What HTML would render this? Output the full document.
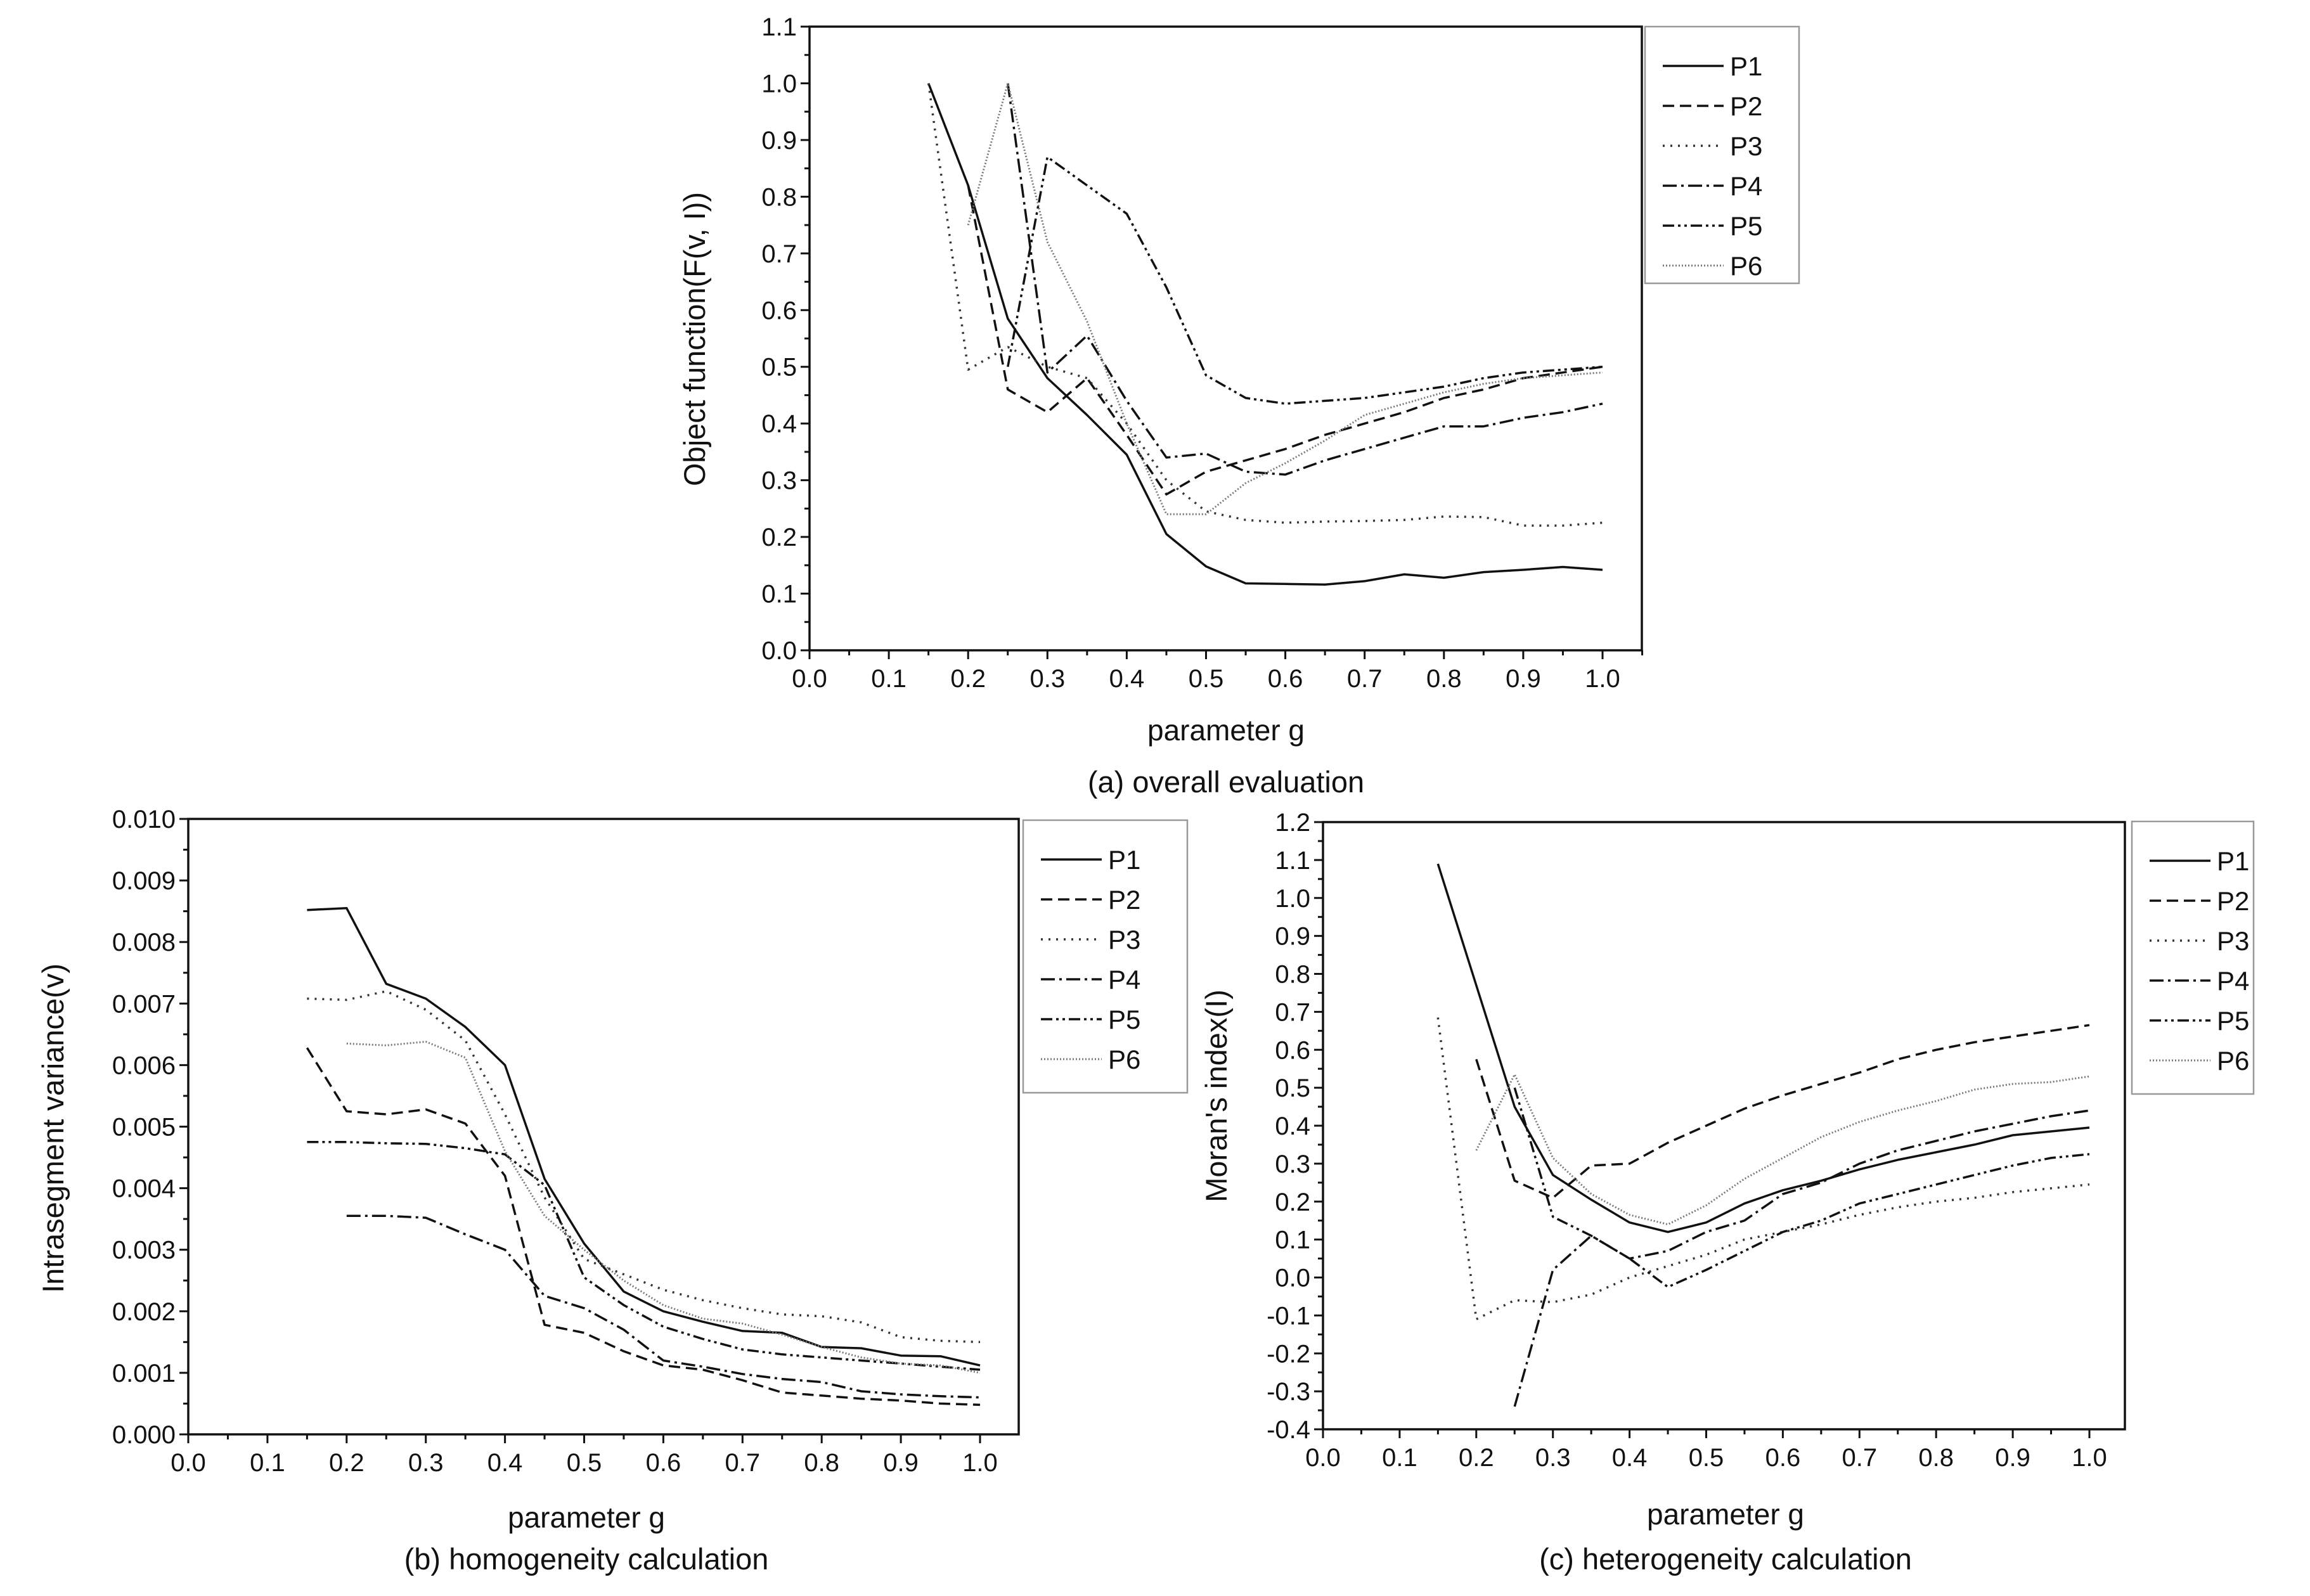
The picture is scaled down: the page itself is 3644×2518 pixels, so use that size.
<!DOCTYPE html>
<html><head><meta charset="utf-8">
<style>
html,body{margin:0;padding:0;background:#fff;}
svg{display:block;font-family:"Liberation Sans",Arial,sans-serif;}
</style></head>
<body>
<svg id="root" width="3644" height="2518" viewBox="0 0 3644 2518" xmlns="http://www.w3.org/2000/svg"></svg>
<script>
// ---- data: chart (a) overall evaluation ----
const gA = [0.15,0.2,0.25,0.3,0.35,0.4,0.45,0.5,0.55,0.6,0.65,0.7,0.75,0.8,0.85,0.9,0.95,1.0];
const aP1 = [1.0,0.82,0.585,0.48,0.415,0.345,0.205,0.148,0.118,0.117,0.116,0.122,0.134,0.128,0.138,0.142,0.147,0.142];
const aP2 = [null,0.82,0.46,0.42,0.48,0.38,0.275,0.315,0.335,0.355,0.38,0.40,0.42,0.445,0.46,0.48,0.49,0.50];
const aP3 = [1.0,0.495,0.535,0.50,0.48,0.40,0.30,0.245,0.23,0.225,0.227,0.228,0.23,0.236,0.235,0.22,0.22,0.225];
const aP4 = [null,null,1.0,0.49,0.555,0.44,0.34,0.347,0.315,0.31,0.335,0.355,0.375,0.395,0.395,0.41,0.42,0.435];
const aP5 = [null,null,0.5,0.87,0.82,0.77,0.64,0.485,0.445,0.435,0.44,0.445,0.455,0.465,0.48,0.49,0.495,0.50];
const aP6 = [null,0.75,1.0,0.72,0.58,0.40,0.24,0.24,0.295,0.33,0.37,0.415,0.435,0.455,0.47,0.48,0.485,0.49];
const aYTicks = ["0.0","0.1","0.2","0.3","0.4","0.5","0.6","0.7","0.8","0.9","1.0","1.1"];
// ---- data: chart (b) homogeneity (x 0.001) ----
const bP1 = [8.52,8.55,7.32,7.08,6.62,6.0,4.15,3.1,2.32,2.0,1.83,1.68,1.65,1.42,1.4,1.28,1.27,1.12];
const bP2 = [6.28,5.25,5.2,5.28,5.05,4.2,1.78,1.65,1.35,1.12,1.05,0.88,0.68,0.63,0.58,0.55,0.5,0.48];
const bP3 = [7.08,7.06,7.2,6.9,6.4,5.2,3.85,2.85,2.6,2.35,2.18,2.05,1.95,1.92,1.82,1.58,1.52,1.5];
const bP4 = [null,3.55,3.55,3.52,3.25,3.0,2.25,2.05,1.7,1.2,1.1,0.98,0.9,0.85,0.7,0.65,0.62,0.6];
const bP5 = [4.75,4.75,4.73,4.72,4.65,4.55,4.05,2.55,2.1,1.75,1.55,1.38,1.3,1.25,1.2,1.15,1.1,1.05];
const bP6 = [null,6.35,6.32,6.38,6.12,4.6,3.55,3.0,2.5,2.1,1.88,1.8,1.62,1.42,1.25,1.15,1.12,1.0];
const bYTicks = ["0.000","0.001","0.002","0.003","0.004","0.005","0.006","0.007","0.008","0.009","0.010"];
// ---- data: chart (c) heterogeneity ----
const cP1 = [1.09,0.77,0.45,0.27,0.205,0.145,0.12,0.145,0.195,0.23,0.255,0.285,0.31,0.33,0.35,0.375,0.385,0.395];
const cP2 = [null,0.575,0.255,0.21,0.295,0.30,0.355,0.40,0.445,0.48,0.51,0.54,0.575,0.60,0.62,0.635,0.65,0.665];
const cP3 = [0.685,-0.11,-0.06,-0.065,-0.045,0.0,0.03,0.06,0.1,0.12,0.14,0.165,0.185,0.2,0.21,0.225,0.235,0.245];
const cP4 = [null,null,-0.34,0.02,0.11,0.05,0.07,0.12,0.15,0.22,0.25,0.3,0.335,0.36,0.385,0.405,0.425,0.44];
const cP5 = [null,null,0.5,0.16,0.11,0.05,-0.025,0.02,0.07,0.12,0.15,0.195,0.22,0.245,0.27,0.295,0.315,0.325];
const cP6 = [null,0.335,0.535,0.315,0.22,0.165,0.14,0.19,0.26,0.315,0.37,0.41,0.44,0.465,0.495,0.51,0.515,0.53];
const cYTicks = ["-0.4","-0.3","-0.2","-0.1","0.0","0.1","0.2","0.3","0.4","0.5","0.6","0.7","0.8","0.9","1.0","1.1","1.2"];
const xTicks = ["0.0","0.1","0.2","0.3","0.4","0.5","0.6","0.7","0.8","0.9","1.0"];
const seriesNames = ["P1","P2","P3","P4","P5","P6"];

const NS="http://www.w3.org/2000/svg";
const root=document.getElementById('root');
const styles=[
 {dash:"",w:3.5,c:"#111"},
 {dash:"18 9",w:3.5,c:"#111"},
 {dash:"3 9",w:3.5,c:"#333"},
 {dash:"22 7 4 7",w:3.5,c:"#111"},
 {dash:"18 6 4 6 4 6",w:3.5,c:"#111"},
 {dash:"2 3",w:3,c:"#777"}
];
function mk(tag,attrs,parent){const e=document.createElementNS(NS,tag);for(const k in attrs)e.setAttribute(k,attrs[k]);(parent||root).appendChild(e);return e;}

function chart(cfg){
  const g=mk('g',{});
  
  
  const X=v=>cfg.x0+(cfg.x1-cfg.x0)*v;
  const Y=v=>cfg.yb+(cfg.yt-cfg.yb)*(v-cfg.ymin)/(cfg.ymax-cfg.ymin);
  const box=mk('rect',{x:cfg.x0,y:cfg.yt,width:cfg.right-cfg.x0,height:cfg.yb-cfg.yt,fill:'none',stroke:'#111','stroke-width':3.5},g);
  
  
  for(let i=0;i<=21;i++){
    const v=i*0.05, x=X(v); if(x>cfg.right+1)break;
    mk('line',{x1:x,x2:x,y1:cfg.yb,y2:cfg.yb+(i%2?8:14),stroke:'#111','stroke-width':3},g);
  }
  xTicks.forEach((t,i)=>{
    const tx=mk('text',{x:X(i*0.1),y:cfg.yb+58,'font-size':40,'text-anchor':'middle',fill:'#111'},g);
    tx.textContent=t;
    
    
  });
  const n=cfg.yTicks.length;
  for(let i=0;i<n;i++){
    const v=cfg.ymin+(cfg.ymax-cfg.ymin)*i/(n-1), y=Y(v);
    mk('line',{x1:cfg.x0-14,x2:cfg.x0,y1:y,y2:y,stroke:'#111','stroke-width':3},g);
    if(i<n-1){const ym=Y(v+(cfg.ymax-cfg.ymin)/(n-1)/2);mk('line',{x1:cfg.x0-8,x2:cfg.x0,y1:ym,y2:ym,stroke:'#111','stroke-width':3},g);}
    const tx=mk('text',{x:cfg.x0-20,y:y+14,'font-size':40,'text-anchor':'end',fill:'#111'},g);
    tx.textContent=cfg.yTicks[i];
    
    
  }
  cfg.series.forEach((s,si)=>{
    let d='';let started=false;
    s.forEach((v,i)=>{if(v===null||v===undefined)return;const px=X(gA[i]),py=Y(v*cfg.scale);d+=(started?'L':'M')+px.toFixed(1)+' '+py.toFixed(1);started=true;});
    const p=mk('path',{d:d,fill:'none',stroke:styles[si].c,'stroke-width':styles[si].w,'stroke-dasharray':styles[si].dash,'stroke-linejoin':'round'},g);
    
    
  });
  const L=cfg.legend;
  const lb=mk('rect',{x:L.x,y:L.y,width:L.w,height:L.h,fill:'#fff',stroke:'#999','stroke-width':2.5},g);
  
  
  seriesNames.forEach((nm,si)=>{
    const yy=L.y+62+si*L.step;
    mk('line',{x1:L.x+28,x2:L.x+124,y1:yy,y2:yy,stroke:styles[si].c,'stroke-width':styles[si].w,'stroke-dasharray':styles[si].dash},g);
    const t=mk('text',{x:L.x+134,y:yy+15,'font-size':42,fill:'#111'},g);
    t.textContent=nm;
    
    
  });
  const xl=mk('text',{x:cfg.xlx,y:cfg.xly,'font-size':46,'text-anchor':'middle',fill:'#111'},g);
  xl.textContent='parameter g';
  
  
  const yl=mk('text',{x:0,y:0,'font-size':47,'text-anchor':'middle',fill:'#111',transform:`translate(${cfg.ylx},${cfg.yly}) rotate(-90)`},g);
  yl.textContent=cfg.ylabel;
  
  
  const cap=mk('text',{x:cfg.xlx,y:cfg.capy,'font-size':47,'text-anchor':'middle',fill:'#111'},g);
  cap.textContent=cfg.caption;
  
  
}

chart({name:'chart-a-overall',x0:1277,x1:2528,right:2590,yt:42,yb:1026,ymin:0,ymax:1.1,scale:1,yTicks:aYTicks,
 series:[aP1,aP2,aP3,aP4,aP5,aP6],legend:{x:2595,y:42,w:243,h:405,step:63},
 xlx:1934,xly:1168,ylx:1112,yly:535,capy:1250,ylabel:'Object function(F(v, I))',caption:'(a) overall evaluation'});
chart({name:'chart-b-homogeneity',x0:297,x1:1546,right:1607,yt:1292,yb:2263,ymin:0,ymax:0.010,scale:0.001,yTicks:bYTicks,
 series:[bP1,bP2,bP3,bP4,bP5,bP6],legend:{x:1614,y:1294,w:259,h:430,step:63},
 xlx:925,xly:2410,ylx:100,yly:1780,capy:2476,ylabel:'Intrasegment variance(v)',caption:'(b) homogeneity calculation'});
chart({name:'chart-c-heterogeneity',x0:2087,x1:3296,right:3352,yt:1297,yb:2255,ymin:-0.4,ymax:1.2,scale:1,yTicks:cYTicks,
 series:[cP1,cP2,cP3,cP4,cP5,cP6],legend:{x:3363,y:1296,w:192,h:430,step:63},
 xlx:2722,xly:2405,ylx:1935,yly:1729,capy:2476,ylabel:"Moran's index(I)",caption:'(c) heterogeneity calculation'});
</script>
</body></html>
